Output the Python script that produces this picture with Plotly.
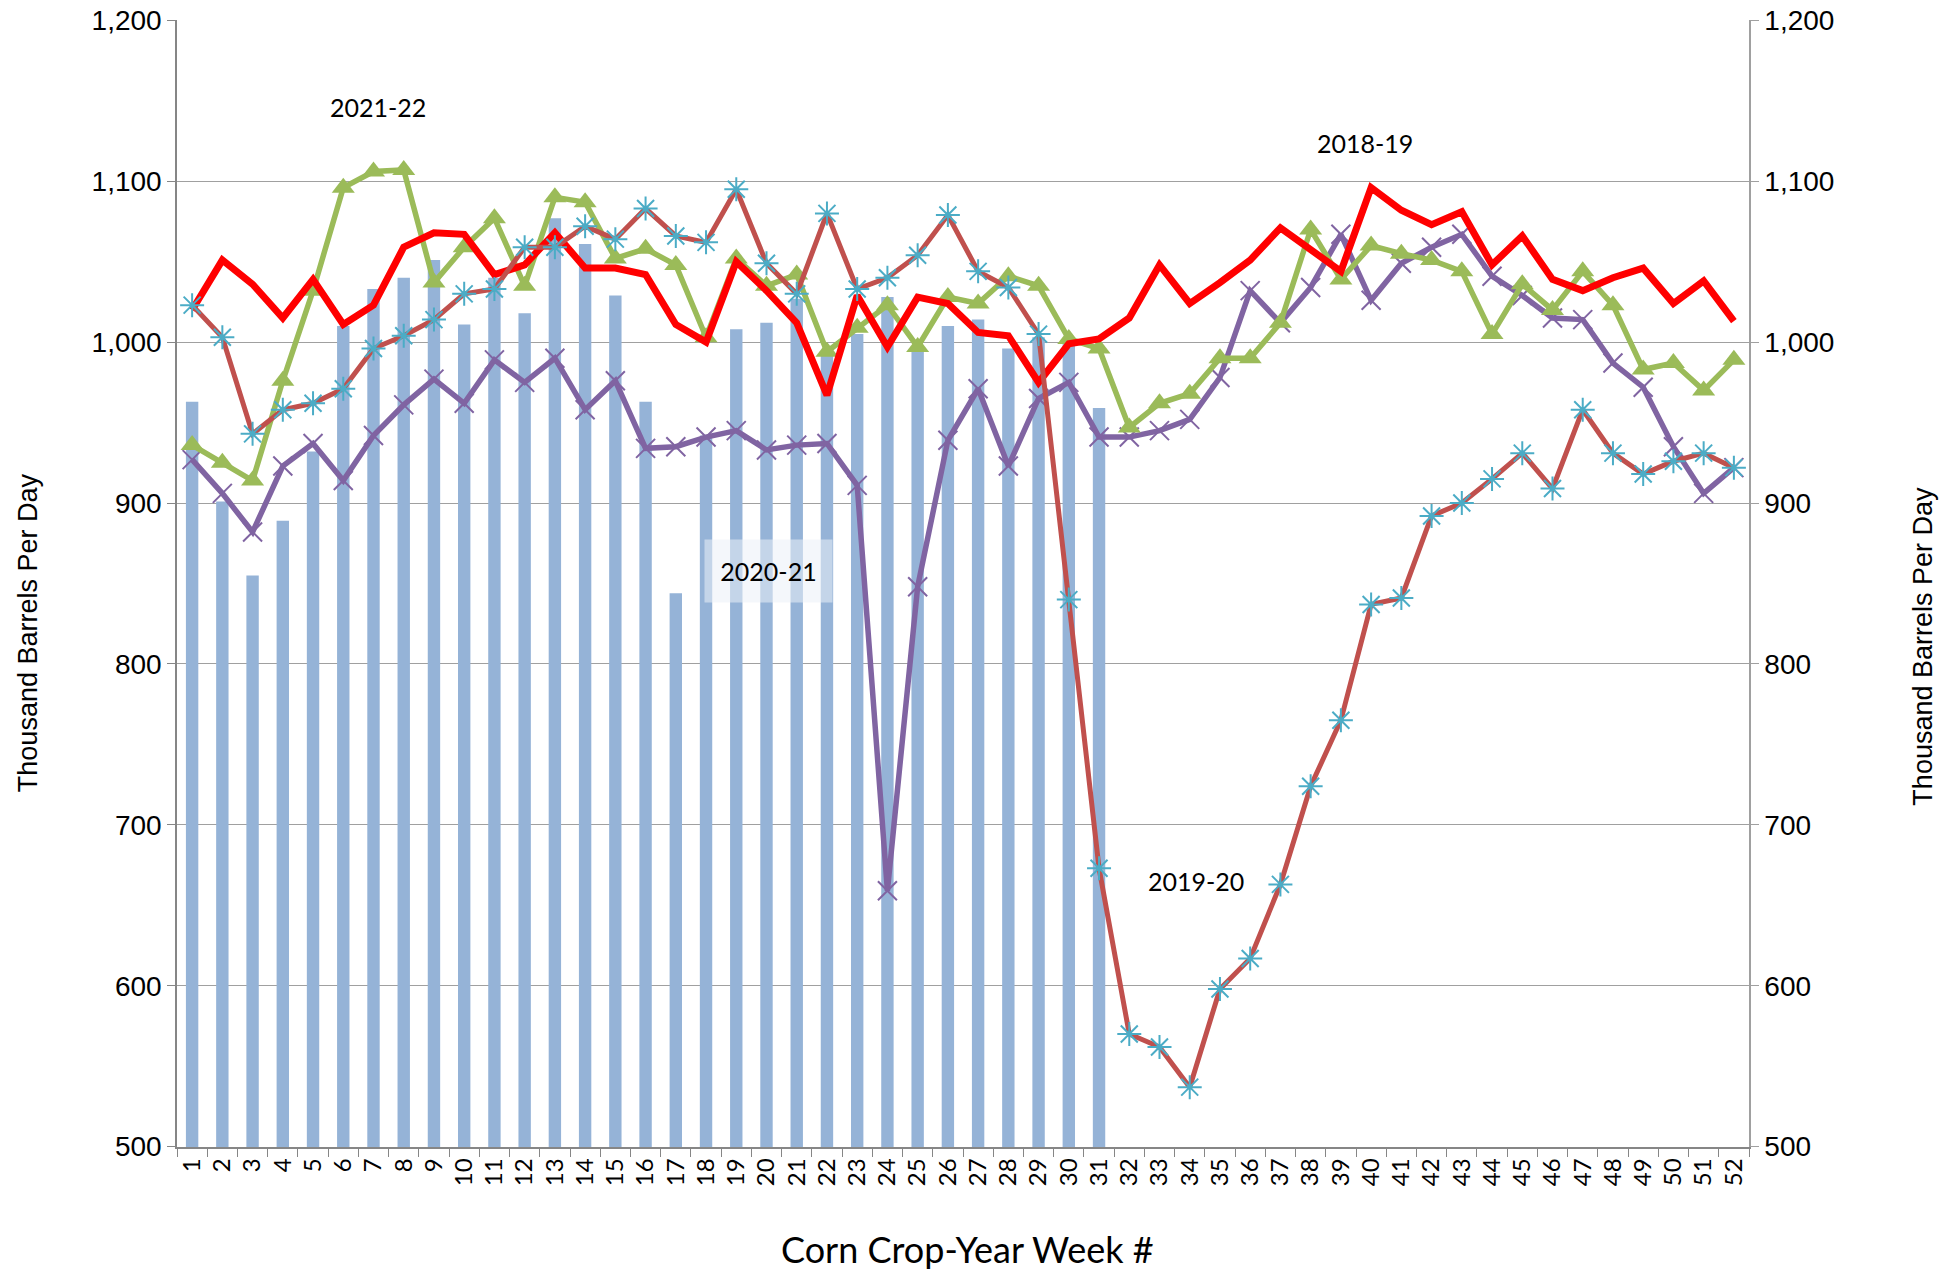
import plotly.graph_objects as go

weeks = [str(w) for w in range(1, 53)]

bars_2022_23 = [963, 901, 855, 889, 932, 1010, 1033, 1040, 1051, 1011,
                1040, 1018, 1077, 1061, 1029, 963, 844, 942, 1008, 1012,
                1027, 992, 1005, 1028, 996, 1010, 1014, 996, 1003, 999,
                959]

red_2018_19 = [1020, 1051, 1036, 1015, 1039, 1011, 1023, 1059, 1068, 1067,
               1042, 1048, 1068, 1046, 1046, 1042, 1011, 1000, 1050, 1032,
               1012, 967, 1029, 997, 1028, 1024, 1006, 1004, 975, 999,
               1002, 1015, 1048, 1024, 1037, 1051, 1071, 1057, 1044, 1096,
               1082, 1073, 1081, 1048, 1066, 1039, 1032, 1040, 1046, 1024,
               1038, 1013]

green_2021_22 = [936, 925, 914, 976, 1032, 1096, 1106, 1107, 1037, 1059,
                 1077, 1035, 1090, 1087, 1052, 1058, 1048, 1003, 1052, 1035,
                 1042, 994, 1009, 1023, 997, 1028, 1024, 1041, 1035, 1002,
                 996, 947, 962, 968, 990, 990, 1012, 1070, 1039, 1060,
                 1055, 1051, 1044, 1005, 1036, 1020, 1044, 1023, 983, 987,
                 970, 989]

purple_2020_21 = [927, 906, 882, 923, 937, 914, 942, 961, 977, 962,
                  989, 975, 990, 958, 976, 934, 935, 941, 945, 933,
                  936, 937, 911, 659, 848, 939, 971, 923, 965, 975,
                  941, 941, 945, 952, 978, 1032, 1012, 1034, 1067, 1026,
                  1049, 1059, 1067, 1041, 1029, 1015, 1014, 987, 972, 935,
                  906, 922]

brown_2019_20 = [1023, 1003, 943, 958, 962, 971, 996, 1004, 1014, 1030,
                 1033, 1059, 1059, 1072, 1064, 1083, 1066, 1062, 1095, 1049,
                 1030, 1080, 1033, 1040, 1054, 1079, 1044, 1034, 1005, 840,
                 673, 570, 562, 537, 598, 617, 663, 724, 765, 837,
                 841, 892, 900, 915, 931, 909, 958, 931, 918, 926,
                 931, 922]

labels = ["2021-22", "2018-19", "2019-20", "2020-21"]
label_x = [6.15, 38.8, 33.2, 19.05]
label_y = [1146, 1124, 665, 858]

y_ticks = [500, 600, 700, 800, 900, 1000, 1100, 1200]

fig = go.Figure()

fig.add_trace(go.Bar(x=weeks[:len(bars_2022_23)], y=bars_2022_23, name="2022-23",
                     marker=dict(color="#95B3D7", line=dict(width=0))))

fig.add_trace(go.Scatter(x=weeks, y=purple_2020_21, name="2020-21", mode="lines+markers",
                         line=dict(color="#8064A2", width=5.5),
                         marker=dict(symbol="x-thin-open", size=19, color="#8064A2",
                                     line=dict(color="#8064A2", width=2))))
fig.add_trace(go.Scatter(x=weeks, y=green_2021_22, name="2021-22", mode="lines+markers",
                         line=dict(color="#9BBB59", width=5.5),
                         marker=dict(symbol="triangle-up", size=20, color="#9BBB59")))
fig.add_trace(go.Scatter(x=weeks, y=red_2018_19, name="2018-19", mode="lines",
                         line=dict(color="#FF0000", width=7)))
fig.add_trace(go.Scatter(x=weeks, y=brown_2019_20, name="2019-20", mode="lines+markers",
                         line=dict(color="#C0504D", width=5),
                         marker=dict(symbol="asterisk-open", size=20, color="#4BACC6",
                                     line=dict(color="#4BACC6", width=2))))
# invisible trace to activate right axis
fig.add_trace(go.Scatter(x=weeks, y=red_2018_19, yaxis="y2", mode="lines",
                         line=dict(width=0), opacity=0, showlegend=False, hoverinfo="skip"))

for i, t in enumerate(labels):
    ann = dict(x=label_x[i], y=label_y[i], xref="x", yref="y", text=t, showarrow=False,
               font=dict(family="Lato", size=25, color="black"),
               xanchor="center", yanchor="middle")
    if t == "2020-21":
        ann.update(bgcolor="rgba(235,240,248,0.55)", width=127, height=62, borderpad=0)
    fig.add_annotation(**ann)

fig.add_annotation(x=-0.0948, y=0.4568, xref="paper", yref="paper", text="Thousand Barrels Per Day",
                   textangle=-90, showarrow=False, xanchor="center", yanchor="middle",
                   font=dict(family="Liberation Sans", size=27, color="black"))
fig.add_annotation(x=1.1107, y=0.444, xref="paper", yref="paper", text="Thousand Barrels Per Day",
                   textangle=-90, showarrow=False, xanchor="center", yanchor="middle",
                   font=dict(family="Liberation Sans", size=27, color="black"))
fig.add_annotation(x=0.503, y=-0.0905, xref="paper", yref="paper", text="Corn Crop-Year Week #",
                   showarrow=False, xanchor="center", yanchor="middle",
                   font=dict(family="Lato", size=36, color="black"))

fig.update_layout(
    template="none",
    width=1958, height=1274,
    margin=dict(l=177, r=209, t=20, b=127, autoexpand=False),
    paper_bgcolor="white", plot_bgcolor="white",
    showlegend=False,
    bargap=0.59,
    xaxis=dict(type="category", categoryorder="array", categoryarray=weeks, automargin=False,
               range=[-0.5, 51.5], tickson="boundaries", ticks="outside", ticklen=8,
               tickcolor="#868686", showline=True, linecolor="#868686", linewidth=1.5,
               tickangle=-90, tickfont=dict(family="Lato", size=24, color="black"),
               showgrid=False, zeroline=False),
    yaxis=dict(range=[499.8, 1200.2], tickvals=y_ticks, tickformat=",", ticks="outside", automargin=False,
               ticklen=8, tickcolor="#868686", showline=True, linecolor="#868686", linewidth=1.5,
               showgrid=True, gridcolor="#A0A0A0", gridwidth=1, zeroline=False,
               ticklabeloverflow="allow",
               tickfont=dict(family="Liberation Sans", size=28, color="black")),
    yaxis2=dict(range=[499.8, 1200.2], tickvals=y_ticks, tickformat=",", overlaying="y", side="right",
                automargin=False, ticklabeloverflow="allow",
                ticks="outside", ticklen=8, tickcolor="#A0A0A0", showline=True, linecolor="#A0A0A0",
                linewidth=1.5, showgrid=False, zeroline=False,
                tickfont=dict(family="Liberation Sans", size=28, color="black")),
)

fig.write_html("out.html", config={"displayModeBar": False},
               post_script="document.body.style.margin='0';document.body.style.padding='0';")
